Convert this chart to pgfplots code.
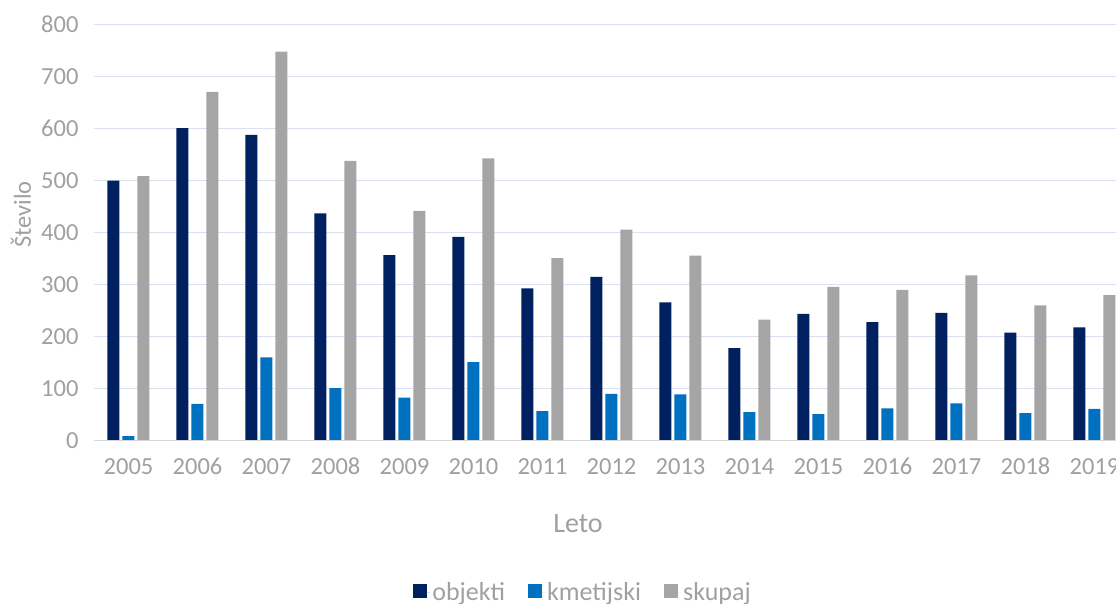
\documentclass[border=0pt]{standalone}
\usepackage{pgfplots}
\pgfplotsset{compat=1.18}
\usepackage{fontspec}
\setmainfont{Carlito}
\definecolor{cObj}{RGB}{0,32,96}
\definecolor{cKme}{RGB}{0,112,192}
\definecolor{cSku}{RGB}{165,165,165}
\definecolor{cTxt}{RGB}{160,160,160}
\definecolor{cGrid}{RGB}{217,225,242}
\definecolor{cAx}{RGB}{217,217,217}
\begin{document}
\begin{tikzpicture}
\begin{axis}[
  at={(0,0)}, anchor=south west,
  scale only axis,
  width=1035pt, height=416pt,
  ybar=3pt, bar width=12pt,
  xmin=-0.5, xmax=14.5,
  ymin=0, ymax=800,
  xtick=data,
  xticklabels={2005,2006,2007,2008,2009,2010,2011,2012,2013,2014,2015,2016,2017,2018,2019},
  ytick={0,100,...,800},
  ymajorgrids, grid style={cGrid, line width=1.3pt},
  axis line style={draw=none},
  axis x line*=bottom,
  axis y line*=left,
  major tick length=0pt,
  tick style={draw=none},
  /pgf/number format/assume math mode=true,
  ticklabel style={font=\fontsize{24.5}{28}\selectfont, text=cTxt},
  yticklabel style={xshift=-12pt},
  xticklabel style={yshift=-14pt},
  xlabel={Leto}, ylabel={Število},
  xlabel style={at={(axis description cs:0.4676,-0.2)}, anchor=center, font=\fontsize{28}{32}\selectfont, text=cTxt},
  ylabel style={at={(axis description cs:-0.0706,0.544)}, anchor=center, rotate=0, font=\fontsize{24.5}{28}\selectfont, text=cTxt},
  legend style={at={(axis description cs:0.4725,-0.364)}, anchor=center, draw=none, fill=none,
    font=\fontsize{26}{30}\selectfont, text=cTxt, /tikz/every even column/.append style={column sep=21pt}},
  legend columns=-1,
  legend image code/.code={\fill[#1] (0pt,-6pt) rectangle (14pt,8pt); \path (0pt,0pt) -- (17pt,0pt);},
  clip=false,
]
\addplot[fill=cObj, draw=none] coordinates {(0,500)(1,601)(2,588)(3,437)(4,357)(5,392)(6,293)(7,315)(8,266)(9,178)(10,244)(11,228)(12,246)(13,208)(14,218)};
\addplot[fill=cKme, draw=none] coordinates {(0,9)(1,71)(2,160)(3,101)(4,83)(5,151)(6,57)(7,90)(8,89)(9,55)(10,51)(11,62)(12,72)(13,53)(14,61)};
\addplot[fill=cSku, draw=none] coordinates {(0,509)(1,671)(2,748)(3,538)(4,442)(5,543)(6,351)(7,406)(8,356)(9,233)(10,296)(11,290)(12,318)(13,260)(14,280)};
\legend{objekti,kmetijski,skupaj}
\draw[cAx, line width=1.5pt] (axis cs:-0.5,0) -- (axis cs:14.5,0);
\end{axis}
\pgfresetboundingbox
\useasboundingbox (-94pt,-163.3pt) rectangle (1022pt,440.7pt);
\end{tikzpicture}
\end{document}
